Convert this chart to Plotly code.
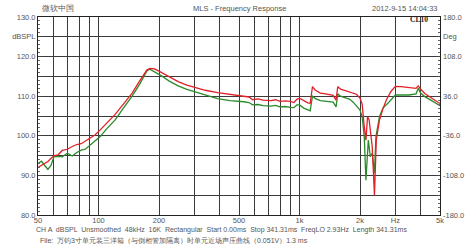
import math
import plotly.graph_objects as go

freq_red = [50, 53, 56, 60, 63, 66, 70, 74, 78, 82, 86, 91, 96, 102, 110, 121, 133, 147, 160, 174, 180, 190, 202, 225, 249, 275, 301, 340, 391, 450, 500, 530, 560, 585, 620, 660, 722, 760, 800, 850, 900, 938, 970, 1000, 1050, 1100, 1130, 1160, 1200, 1270, 1350, 1420, 1470, 1520, 1550, 1600, 1700, 1780, 1850, 1920, 2000, 2050, 2100, 2140, 2180, 2220, 2300, 2360, 2410, 2500, 2600, 2700, 2850, 3000, 3200, 3500, 3800, 3900, 4000, 4200, 4500, 4900, 5000]
spl_red = [92.0, 92.8, 93.5, 95.0, 95.2, 96.3, 96.6, 97.3, 97.8, 98.0, 98.6, 99.4, 100.2, 101.5, 103.2, 105.4, 108.0, 110.8, 113.8, 116.6, 117.0, 116.9, 116.2, 114.8, 113.7, 112.8, 112.2, 111.5, 110.9, 110.5, 110.2, 110.0, 109.8, 109.1, 109.3, 109.0, 108.9, 109.1, 108.7, 108.8, 108.7, 108.4, 109.2, 109.5, 108.9, 108.3, 108.2, 112.4, 111.5, 110.8, 110.6, 110.4, 110.2, 109.0, 112.4, 111.8, 111.4, 111.1, 110.9, 110.5, 109.5, 108.0, 102.3, 98.9, 104.8, 104.0, 97.3, 85.0, 98.9, 104.0, 106.8, 109.0, 111.2, 112.5, 112.4, 112.2, 112.0, 112.6, 111.8, 110.7, 109.6, 108.4, 108.2]

freq_green = [50, 52, 54, 56, 58, 60, 63, 66, 70, 74, 78, 82, 86, 91, 96, 102, 110, 121, 133, 147, 160, 174, 180, 190, 202, 225, 249, 275, 301, 340, 391, 450, 500, 530, 560, 585, 620, 660, 722, 760, 800, 850, 900, 938, 970, 1000, 1050, 1100, 1130, 1160, 1200, 1270, 1350, 1420, 1470, 1520, 1550, 1600, 1700, 1780, 1850, 1920, 2000, 2050, 2100, 2140, 2180, 2200, 2250, 2300, 2360, 2400, 2500, 2600, 2750, 3000, 3200, 3500, 3800, 3900, 4000, 4200, 4500, 4900, 5000]
spl_green = [93.0, 93.6, 92.5, 91.5, 92.5, 94.7, 94.8, 94.7, 95.6, 94.9, 95.8, 96.4, 96.6, 97.7, 98.6, 99.8, 101.8, 104.0, 107.0, 110.0, 113.0, 116.4, 116.8, 116.2, 115.4, 113.8, 112.6, 111.7, 111.1, 110.3, 109.4, 108.9, 108.8, 108.6, 108.4, 107.8, 107.9, 107.6, 107.5, 107.7, 107.3, 107.4, 107.2, 107.1, 107.8, 107.8, 107.0, 106.5, 106.3, 110.0, 109.4, 108.9, 108.7, 108.6, 108.5, 107.3, 110.6, 110.0, 109.5, 109.2, 108.5, 107.6, 106.5, 104.8, 99.8, 88.8, 96.0, 98.9, 94.7, 95.6, 90.6, 99.8, 104.8, 107.0, 108.2, 110.3, 110.3, 110.3, 110.6, 112.0, 110.8, 109.9, 109.0, 107.8, 107.6]

x_grid = [50, 60, 70, 80, 90, 100, 200, 300, 400, 500, 600, 700, 800, 900, 1000, 2000, 3000, 4000, 5000]
x_labels = ["50", "", "", "", "", "100", "200", "", "", "500", "", "", "", "", "1k", "2k", "Hz", "", "5k"]
y_vals = [80, 85, 90, 95, 100, 105, 110, 115, 120, 125, 130]
y_labels = ["80.0", "", "90.0", "", "100.0", "", "110.0", "", "120.0", "dBSPL", "130.0"]
deg_vals = [-180, -144, -108, -72, -36, 0, 36, 72, 108, 144, 180]
deg_labels = ["-180.0", "", "-108.0", "", "-36.0", "", "36.0", "", "108.0", "Deg", "180.0"]

FONT = "Liberation Sans, Arial, sans-serif"
TXT = "#555555"

fig = go.Figure()
fig.add_trace(go.Scatter(x=freq_green, y=spl_green, mode="lines",
                         line=dict(color="#2a8a2a", width=1.3), showlegend=False))
fig.add_trace(go.Scatter(x=freq_red, y=spl_red, mode="lines",
                         line=dict(color="#e02028", width=1.3), showlegend=False))
fig.add_trace(go.Scatter(x=[50], y=[0], yaxis="y2", mode="markers",
                         marker=dict(opacity=0), showlegend=False, hoverinfo="skip"))

fig.update_layout(
    width=476, height=251,
    margin=dict(l=35, r=35, t=17, b=36),
    paper_bgcolor="white", plot_bgcolor="white",
    font=dict(family=FONT, size=7.5, color=TXT),
    xaxis=dict(type="log", range=[math.log10(50), math.log10(5000)],
               tickmode="array", tickvals=x_grid, ticktext=x_labels,
               showgrid=True, gridcolor="#3a3a3a", gridwidth=1,
               showline=True, linecolor="#222", linewidth=1, mirror=True,
               ticks="", ticklabelstandoff=-2, zeroline=False,
               tickfont=dict(size=7.5, color=TXT)),
    yaxis=dict(range=[80, 130], tickmode="array", tickvals=y_vals, ticktext=y_labels,
               showgrid=True, gridcolor="#3a3a3a", gridwidth=1,
               showline=True, linecolor="#222", linewidth=1, mirror=True,
               ticks="inside", ticklen=4, tickcolor="#444",
               minor=dict(dtick=1, ticks="inside", ticklen=2, tickcolor="#666", showgrid=False),
               zeroline=False, tickfont=dict(size=7.5, color=TXT)),
    yaxis2=dict(overlaying="y", side="right", range=[-180, 180],
                tickmode="array", tickvals=deg_vals, ticktext=deg_labels,
                showgrid=False, zeroline=False,
                ticks="inside", ticklen=4, tickcolor="#444", ticklabelstandoff=2,
                minor=dict(dtick=7.2, tick0=-180, ticks="inside", ticklen=2, tickcolor="#666", showgrid=False),
                tickfont=dict(size=7.5, color=TXT)),
)

def px2x(px):
    return (px - 35) / 406.0

def py2y(py):
    return (215 - py) / 198.0

annos = [
    dict(text="微软中国", x=px2x(37), y=py2y(9), xanchor="left"),
    dict(text="MLS - Frequency Response", x=px2x(238), y=py2y(9), xanchor="center"),
    dict(text="2012-9-15 14:04:33", x=px2x(440), y=py2y(9), xanchor="right"),
    dict(text="<b>CL10</b>", x=px2x(420), y=py2y(20), xanchor="center",
         font=dict(family="Liberation Serif, serif", size=7.5, color="#222")),
    dict(text="CH A  dBSPL  Unsmoothed  48kHz  16K  Rectangular  Start 0.00ms  Stop 341.31ms  FreqLO 2.93Hz  Length 341.31ms",
         x=px2x(31), y=py2y(230), xanchor="left", font=dict(family=FONT, size=7, color=TXT)),
    dict(text="File:  万钧3寸单元装三洋箱（与倒相管加隔离）时单元近场声压曲线（0.051V）1.3 ms",
         x=px2x(35), y=py2y(241), xanchor="left", font=dict(family=FONT, size=7, color=TXT)),
]
for a in annos:
    d = dict(xref="paper", yref="paper", yanchor="middle", showarrow=False,
             font=dict(family=FONT, size=7.5, color=TXT))
    d.update(a)
    fig.add_annotation(**d)

fig.write_html("out.html")
